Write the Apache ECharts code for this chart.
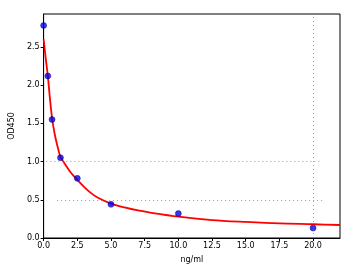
<!DOCTYPE html>
<html><head><meta charset="utf-8">
<script src="https://cdn.jsdelivr.net/npm/echarts@6/dist/echarts.min.js"></script>
<style>html,body{margin:0;padding:0;background:#fff}#c{width:362px;height:277px}</style>
</head><body><div id="c"></div>
<script>
// Measured standards
const concX = [0, 0.3125, 0.625, 1.25, 2.5, 5, 10, 20];
const odY = [2.78, 2.12, 1.55, 1.05, 0.78, 0.44, 0.32, 0.13];
// Fitted curve
const curveX = [0, 0.15, 0.3125, 0.45, 0.625, 0.8, 1.0, 1.25, 1.5, 2, 2.5, 3, 3.5, 4, 5, 6, 7, 8, 10, 12.5, 15, 17.5, 20, 22];
const curveY = [2.6, 2.36, 2.12, 1.86, 1.57, 1.38, 1.22, 1.06, 0.99, 0.86, 0.76, 0.67, 0.59, 0.53, 0.45, 0.40, 0.36, 0.33, 0.28, 0.235, 0.21, 0.19, 0.18, 0.17];
// Faint dotted guide lines
const guideY = [[1.0, 0.2, 20.5], [0.5, 1.0, 20.8]];
const guideX = [20];
const xTicks = [0, 2.5, 5, 7.5, 10, 12.5, 15, 17.5, 20];
const yTicks = [0, 0.5, 1.0, 1.5, 2.0, 2.5];

const font = 'DejaVu Sans';
const chart = echarts.init(document.getElementById('c'), null, {renderer: 'canvas'});
const markData = [];
guideY.forEach(g => markData.push([{coord: [g[1], g[0]]}, {coord: [g[2], g[0]]}]));
guideX.forEach(x => markData.push([{coord: [x, 0]}, {coord: [x, 2.9]}]));

chart.setOption({
  animation: false,
  grid: {left: 41, top: 14, right: 22, bottom: 39, show: true, borderColor: '#000', borderWidth: 1},
  xAxis: {
    type: 'value', min: 0, max: 22, interval: 2.5,
    name: 'ng/ml', nameLocation: 'middle', nameGap: 18,
    nameTextStyle: {fontFamily: font, fontSize: 8, color: '#000'},
    axisLine: {show: true, onZero: false, lineStyle: {color: '#000'}},
    axisTick: {show: true, length: 3, lineStyle: {color: '#000'}},
    axisLabel: {fontFamily: font, fontSize: 8, color: '#000', margin: 4,
      showMaxLabel: false,
      formatter: v => xTicks.includes(v) ? v.toFixed(1) : ''},
    splitLine: {show: false}
  },
  yAxis: {
    type: 'value', min: 0, max: 2.93, interval: 0.5,
    name: 'OD450', nameLocation: 'middle', nameGap: 19,
    nameTextStyle: {fontFamily: font, fontSize: 8, color: '#000'},
    axisLine: {show: true, onZero: false, lineStyle: {color: '#000'}},
    axisTick: {show: true, length: 3, lineStyle: {color: '#000'}},
    axisLabel: {fontFamily: font, fontSize: 8, color: '#000', margin: 4,
      showMaxLabel: false,
      formatter: v => yTicks.includes(v) ? v.toFixed(1) : ''},
    splitLine: {show: false}
  },
  series: [
    {
      type: 'line', data: curveX.map((x, i) => [x, curveY[i]]),
      smooth: 0.3, showSymbol: false, symbol: 'none',
      lineStyle: {color: '#ff0000', width: 1.8},
      markLine: {silent: true, symbol: 'none', label: {show: false},
        lineStyle: {color: '#777', type: [1, 3], width: 1, opacity: 0.7},
        data: markData},
      z: 3
    },
    {
      type: 'scatter', data: concX.map((x, i) => [x, odY[i]]),
      symbol: 'circle', symbolSize: 6,
      itemStyle: {color: '#0000ee', borderColor: '#000080', borderWidth: 0.5},
      z: 4
    }
  ]
});
</script></body></html>
